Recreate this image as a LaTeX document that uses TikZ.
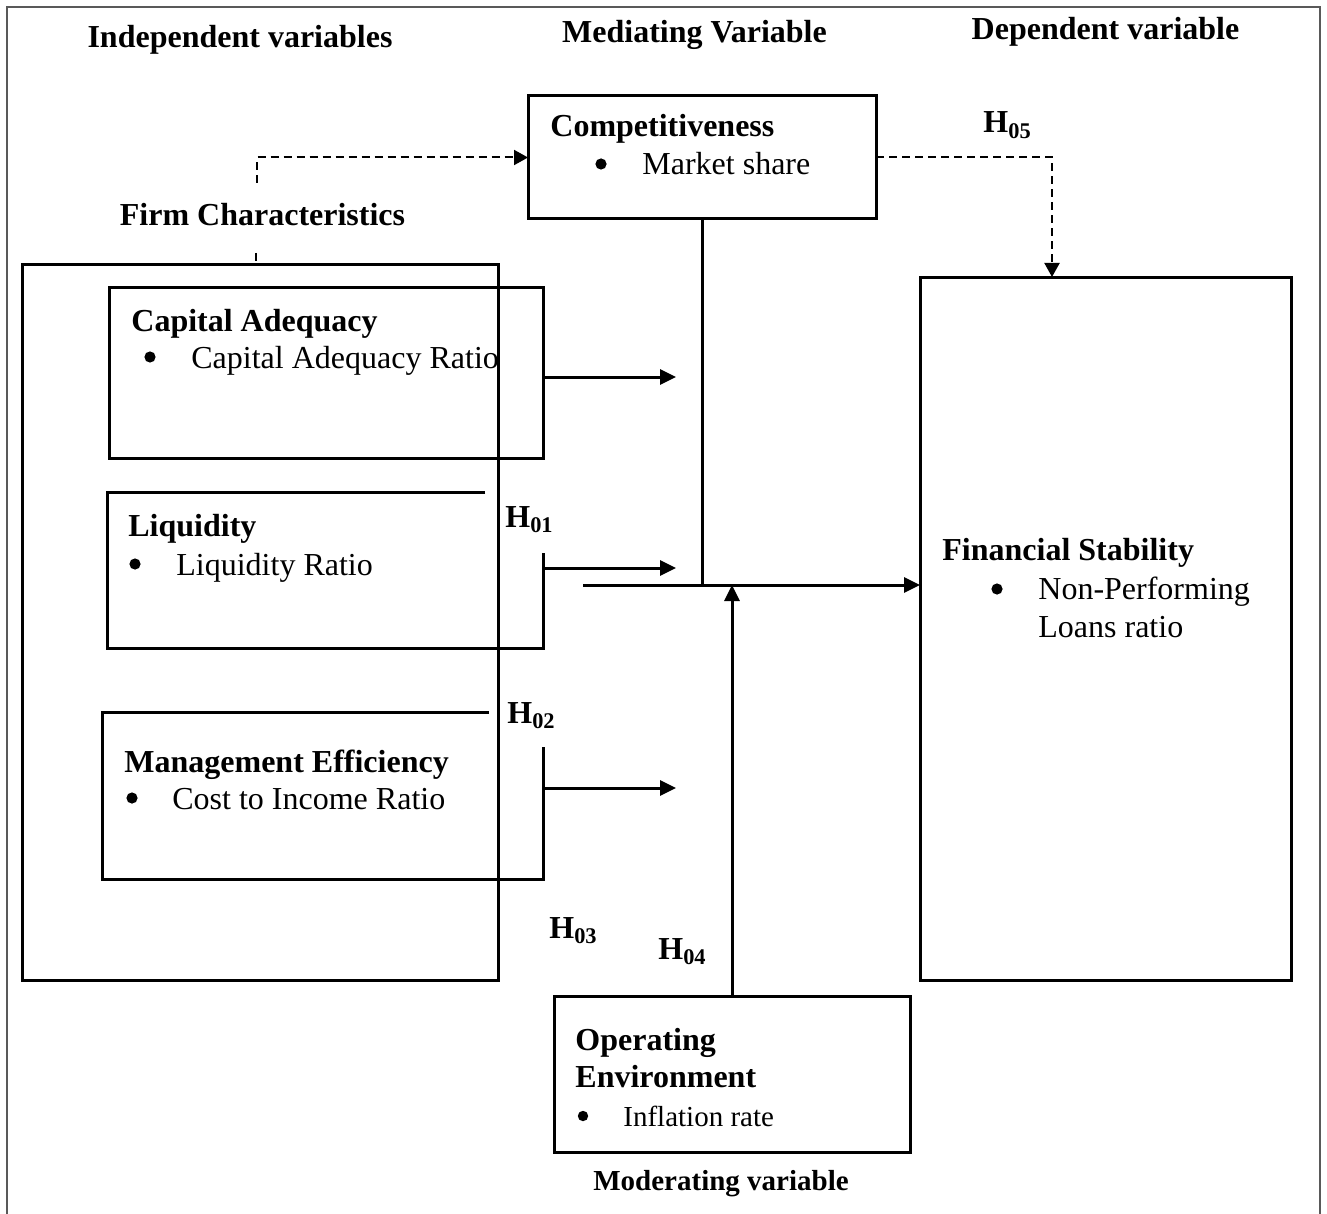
\documentclass[tikz,border=0pt]{standalone}
\usepackage{fontspec}
\setmainfont{Liberation Serif}
\usetikzlibrary{arrows.meta}

\tikzset{
	box/.style={draw,line width=1.5pt,inner sep=0pt,outer sep=0pt},
	conn/.style={line width=1.5pt},
	arr/.style={line width=1.5pt,-{Triangle[length=8pt,width=7.5pt]}},
	darr/.style={line width=1pt,dash pattern=on 4pt off 2.5pt,-{Triangle[length=7pt,width=7.5pt]}},
	txt/.style={inner sep=0pt,anchor=base west,font=\fontsize{16}{19}\selectfont},
	head/.style={txt,font=\fontsize{16}{19}\selectfont\bfseries},
	small/.style={txt,font=\fontsize{14.5}{17}\selectfont},
	bul/.style={circle,fill,inner sep=0pt,minimum size=5.6pt},
}

\begin{document}
\begin{tikzpicture}[x=0.5pt,y=-0.5pt]
	\useasboundingbox (0,0) rectangle (1327,1214);
	\draw [black!65,line width=1pt](6.5,1214)--(6.5,7)--(1319.5,7)--(1319.5,1214);

	% column titles
	\node (tind) at(240,48) [head,anchor=base]{Independent variables};
	\node (tmed) at(694.5,43) [head,anchor=base]{Mediating Variable};
	\node (tdep) at(1105.5,40) [head,anchor=base]{Dependent variable};
	\node (tfirm) at(262.5,226) [head,anchor=base]{Firm Characteristics};
	\node (tmod) at(721,1190) [small,anchor=base,font=\fontsize{14.5}{17}\selectfont\bfseries]{Moderating variable};

	% boxes
	\node (comp) at(702,157.5) [box,minimum width=174pt,minimum height=61.5pt]{};
	\node (firm) at(260,622.5) [box,minimum width=238pt,minimum height=357.5pt]{};
	\node (capital) at(326,372.5) [box,minimum width=217pt,minimum height=85.5pt]{};
	\node (fin) at(1105.5,628.5) [box,minimum width=185.5pt,minimum height=351.5pt]{};
	\node (oper) at(732,1074) [box,minimum width=178pt,minimum height=78pt]{};
	\draw [conn](485,492)--(107,492)--(107,648)--(543,648)--(543,553);
	\draw [conn](489,712)--(102,712)--(102,879)--(543,879)--(543,747);

	% box texts
	\node (ncomp) at(550,137) [head]{Competitiveness};
	\node (bcomp) at(601,164) [bul]{};
	\node (icomp) at(642,175) [txt]{Market share};
	\node (ncap) at(131,331) [head]{Capital Adequacy};
	\node (bcap) at(150,357) [bul]{};
	\node (icap) at(191,368) [txt]{Capital Adequacy Ratio};
	\node (nliq) at(128,536) [head]{Liquidity};
	\node (bliq) at(135,564) [bul]{};
	\node (iliq) at(176,575) [txt]{Liquidity Ratio};
	\node (nman) at(124,772) [head]{Management Efficiency};
	\node (bman) at(132,798) [bul]{};
	\node (iman) at(172,809) [txt]{Cost to Income Ratio};
	\node (nfin) at(942,560) [head]{Financial Stability};
	\node (bfin) at(997,589) [bul]{};
	\node (ifin) at(1038,599) [txt]{Non-Performing};
	\node (ifin2) at(1038,637) [txt]{Loans ratio};
	\node (nop) at(575,1050) [head]{Operating};
	\node (nop2) at(575,1087) [head]{Environment};
	\node (bop) at(583,1116) [bul,minimum size=5.2pt]{};
	\node (iop) at(623,1126) [small]{Inflation rate};

	% hypotheses
	\node (h1) at(505,527) [head]{H\textsubscript{01}};
	\node (h2) at(507,723) [head]{H\textsubscript{02}};
	\node (h3) at(549,938) [head]{H\textsubscript{03}};
	\node (h4) at(658,959) [head]{H\textsubscript{04}};
	\node (h5) at(983,133) [head]{H\textsubscript{05}};

	% connectors
	\coordinate (capT) at(676,377);
	\coordinate (liqT) at(676,568);
	\coordinate (manT) at(676,788);
	\coordinate (mainL) at(583,585);
	\coordinate (fcUp) at(257,183);
	\coordinate (fcLow) at(256,253);
	\coordinate (finT) at(1052,277);
	\draw [arr](capital.east|-capT)--(capT);
	\draw [arr](543,568)--(liqT);
	\draw [arr](543,788)--(manT);
	\draw [conn](comp.south)--(comp.south|-mainL);
	\draw [arr](mainL)--(mainL-|fin.west);
	\draw [arr](oper.north)--(oper.north|-mainL);
	\draw [darr](fcUp)|-(comp.west);
	\draw [line width=1pt,dash pattern=on 4pt off 2.5pt](fcLow)--(fcLow|-firm.north);
	\draw [darr](comp.east)-|(finT);
\end{tikzpicture}
\end{document}
